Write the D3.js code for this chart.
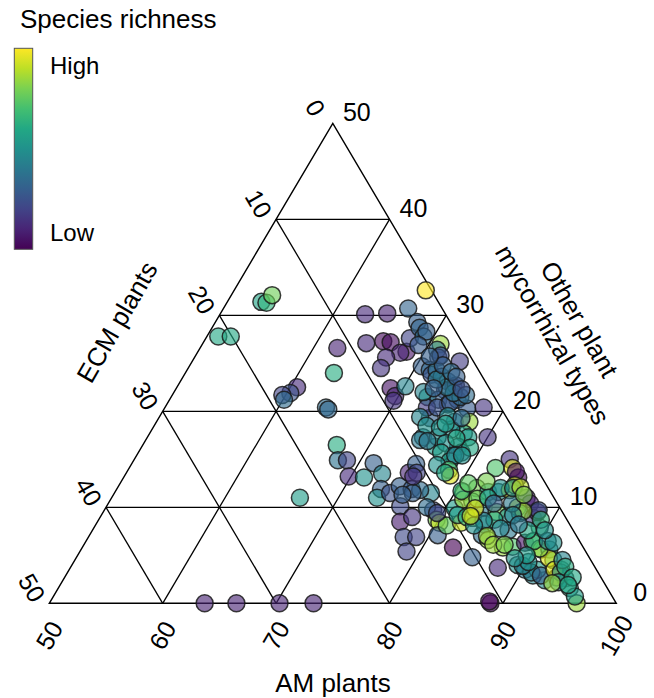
<!DOCTYPE html>
<html>
<head>
<meta charset="utf-8">
<script src="https://cdn.jsdelivr.net/npm/d3@7"></script>
<style>
  html, body { margin: 0; padding: 0; background: #fff; }
  svg { display: block; font-family: "Liberation Sans", Arial, Helvetica, sans-serif; }
</style>
</head>
<body>
<svg id="chart" width="654" height="698"></svg>
<script>
// ---- Data (percent of plant community) ----
const ecm = [
15.6,15.2,14.3,21.2,20.1,16.9,17.8,18.6,18.7,22.4,
11.3,12.9,15.4,15.3,16.4,17.1,16.3,17.0,15.7,14.1,
13.9,14.8,15.6,14.2,13.0,11.5,10.4,10.8,12.1,14.0,
14.8,13.5,15.3,14.2,15.8,36.3,33.5,29.7,26.7,11.1,
11.1,3.5,7.1,5.1,3.0,8.5,6.9,6.3,5.4,6.0,
7.5,8.5,8.7,8.7,7.3,9.1,4.4,0.5,2.9,3.0,
3.1,2.6,2.0,2.6,2.9,1.2,4.8,4.3,4.4,3.7,
3.6,3.3,3.1,4.0,5.9,5.1,4.5,3.4,3.0,1.5,
6.8,4.8,3.5,4.6,4.4,2.7,5.5,8.4,7.8,5.8,
5.8,4.8,6.5,5.6,4.2,3.0,2.8,3.4,2.4,3.7,
4.2,2.6,7.6,7.5,8.8,7.1,6.7,6.7,6.0,7.6,
7.3,6.5,5.9,2.9,2.5,2.3,2.5,5.1,4.0,6.4,
4.0,3.6,4.9,5.7,5.5,8.6,8.2,7.8,8.0,8.3,
10.6,11.3,11.7,11.5,11.4,12.2,11.5,10.3,11.4,12.2,
13.2,11.3,9.3,10.9,9.5,3.6,1.9,2.1,2.1,2.0,
7.7,6.3,5.5,4.6,3.5,2.8,2.4,2.4,7.4,8.1,
6.7,5.8,5.1,3.7,3.8,11.1,9.4,8.7,8.2,7.5,
6.4,5.7,6.3,8.3,8.0,7.1,6.2,4.9,4.2,2.8,
2.9,2.2,7.8,6.8,8.6,6.7,3.8,3.1,3.3,3.1,
3.2,3.9,5.1,5.9,6.3,3.3,3.3,5.2,5.9,6.3,
5.6,5.2,3.6,3.7,3.3,4.0,4.6,3.9,4.0,2.8,
2.4,2.5,2.6,2.5,3.3,2.0,2.3,3.4,4.0,4.5,
7.4,8.5,7.9,7.8,6.8,7.5,8.3,4.2,3.1,5.1,
6.8,2.5,4.0,4.5,5.4,6.6,5.8,5.6,2.4,2.5
];
const other = [
31.4,31.3,32.1,27.8,27.8,22.5,21.9,21.7,21.2,11.0,
26.6,24.0,20.4,20.2,16.5,14.9,14.9,13.2,13.1,14.6,
13.5,11.9,11.0,11.5,12.2,13.6,14.5,13.6,11.9,10.1,
8.5,9.0,6.9,6.9,5.4,0,0,0,0,0,
0.2,0,30.1,30.2,30.7,27.1,27.3,27.2,26.2,26.1,
25.6,24.5,22.4,21.6,22.6,21.1,27.6,32.6,29.3,28.7,
27.8,28.3,27.0,26.4,25.6,25.2,24.7,24.3,23.8,24.3,
23.6,23.1,22.5,22.2,21.5,21.2,20.7,21.2,20.3,20.4,
19.3,18.9,18.9,17.7,17.3,17.3,18.1,17.3,16.3,16.3,
15.7,16.2,20.4,20.4,20.9,21.5,22.7,21.9,21.7,22.5,
23.3,25.8,19.4,18.5,17.0,17.3,16.7,15.4,22.0,15.7,
14.8,15.4,15.4,24.8,24.1,23.6,22.3,19.5,19.3,18.3,
26.9,25.7,22.4,18.7,17.2,14.4,16.9,13.9,13.3,13.6,
11.5,9.7,10.0,8.7,8.4,7.1,5.8,4.8,11.8,11.5,
11.3,13.2,9.9,8.1,8.4,14.1,15.0,14.1,13.1,13.7,
11.6,12.0,11.6,11.6,11.8,12.3,11.0,10.4,10.6,10.8,
10.0,9.5,9.0,10.0,9.4,9.4,9.2,9.0,8.9,8.2,
8.7,7.6,7.8,7.1,6.6,5.8,5.9,6.3,6.4,7.9,
8.9,9.5,11.7,10.9,3.7,4.0,5.6,5.6,4.5,3.5,
2.6,2.7,2.4,2.9,3.5,1.6,0.7,3.5,3.2,3.9,
4.3,2.9,4.7,3.5,3.2,2.2,2.1,5.7,6.5,6.5,
6.3,4.5,3.8,2.7,1.9,9.7,8.7,9.6,10.4,9.2,
8.6,8.1,7.0,6.1,6.1,9.9,9.1,12.0,12.0,12.7,
12.5,7.6,7.6,8.2,5.0,4.7,11.0,10.4,12.1,11.3
];
// relative species richness (0 = low, 1 = high)
const richness = [
.58,.65,.78,.6,.6,.12,.25,.2,.35,.55,
.1,.62,.35,.33,.62,.38,.2,.12,.5,.3,
.45,.3,.5,.25,.3,.1,.3,.2,.28,.22,
.08,.15,.22,.2,.2,.1,.1,.1,.1,0,
.02,.85,.12,.1,.32,.12,.02,.03,.05,.1,
.12,.15,.05,.1,.45,.15,.2,1,.3,.32,
.35,.3,.85,.4,.25,.18,.3,.33,.25,.38,
.4,.38,.3,.25,.55,.3,.25,.28,.28,.15,
.3,.5,.85,.55,.55,.15,.5,.45,.55,.45,
.45,.6,.18,.25,.28,.35,.22,.4,.35,.4,
.4,.25,.45,.5,.4,.5,.5,.45,.45,.55,
.55,.45,.5,.3,.35,.3,.25,.48,.35,.5,
.28,.3,.3,.55,.6,.5,.4,.72,.95,.6,
.45,.2,.35,.8,.92,.3,0,.3,.35,.3,
.3,.15,.55,.75,.92,.72,.15,.95,.02,.05,
.85,.8,.5,.5,.95,.92,.05,.1,.75,.85,
.4,.8,.5,.95,.5,.22,.55,.62,.92,.55,
.6,.4,.45,.35,.85,.85,.72,.05,.75,.68,
.18,.03,.65,.78,.12,.5,.85,.5,.65,.6,
.45,.95,.48,.45,.4,.58,.55,.55,.42,.45,
.5,.3,.95,.95,.45,.5,.85,.82,.65,.45,
.5,.45,.62,.6,.6,.25,.65,.85,.4,.45,
.45,.5,.85,.85,.8,.95,.92,.5,.5,.8,
.75,.5,.6,.4,.55,.5,.6,.3,.9,.8
];
const gridValues = [10, 20, 30, 40];
const ecmTicks = [0, 10, 20, 30, 40, 50];
const amTicks = [50, 60, 70, 80, 90, 100];
const otherTicks = [0, 10, 20, 30, 40, 50];

// ---- Scales ----
const svg = d3.select("#chart");
const xScale = d3.scaleLinear().domain([50, 100]).range([49.3, 616.3]); // AM along the base
const yScale = d3.scaleLinear().domain([0, 50]).range([603.3, 123.3]);  // Other (height)
const color = d3.scaleSequential(d3.interpolateViridis).domain([0, 1]);

function proj(am, e, o) {
  const x = xScale(am) + (xScale(50 + o) - xScale(50)) / 2;
  return [x, yScale(o)];
}
const P = (e, o) => proj(100 - e - o, e, o);

// ---- Grid ----
const g = svg.append("g");
const lines = [];
gridValues.forEach(k => {
  lines.push([P(k, 0), P(k, 50 - k)]);      // ECM = k
  lines.push([P(50 - k, k), P(0, k)]);      // Other = k
  const m = 50 + k;                          // AM = m
  lines.push([P(100 - m, 0), P(0, 100 - m)]);
});
g.selectAll("line.grid").data(lines).join("line")
  .attr("x1", d => d[0][0]).attr("y1", d => d[0][1])
  .attr("x2", d => d[1][0]).attr("y2", d => d[1][1])
  .attr("stroke", "#000").attr("stroke-width", 1.3);
const tri = [P(50, 0), P(0, 0), P(0, 50)];
g.append("path")
  .attr("d", d3.line()(tri) + "Z")
  .attr("fill", "none").attr("stroke", "#000").attr("stroke-width", 1.4);

// ---- Points ----
const pts = ecm.map((e, i) => ({ e, o: other[i], r: richness[i] }));
svg.append("g").selectAll("circle").data(pts).join("circle")
  .attr("cx", d => P(d.e, d.o)[0])
  .attr("cy", d => P(d.e, d.o)[1])
  .attr("r", 8.5)
  .attr("fill", d => color(d.r))
  .attr("fill-opacity", 0.62)
  .attr("stroke", "#1a1a1a")
  .attr("stroke-opacity", 0.85)
  .attr("stroke-width", 1.5);

// ---- Tick labels ----
const fs = 25;
const tl = svg.append("g").attr("font-size", fs).attr("fill", "#000");
ecmTicks.forEach(v => {
  const [x, y] = P(v, 50 - v);
  tl.append("text").attr("transform", `translate(${x - 17.5},${y - 15.5}) rotate(60)`)
    .attr("text-anchor", "middle").attr("dy", "0.35em").text(v);
});
amTicks.forEach(v => {
  const [x, y] = P(100 - v, 0);
  tl.append("text").attr("transform", `translate(${x},${y + 32}) rotate(-60)`)
    .attr("text-anchor", "middle").attr("dy", "0.35em").text(v);
});
otherTicks.forEach(v => {
  const [x, y] = P(0, v);
  tl.append("text").attr("x", x + 24).attr("y", y - 11)
    .attr("text-anchor", "middle").attr("dy", "0.35em").text(v);
});

// ---- Axis titles ----
const at = svg.append("g").attr("font-size", 26).attr("fill", "#000");
at.append("text").attr("x", 333).attr("y", 692).attr("text-anchor", "middle").text("AM plants");
at.append("text").attr("transform", "translate(117,322) rotate(-60)")
  .attr("text-anchor", "middle").attr("dy", "0.35em").text("ECM plants");
const ot = at.append("g").attr("transform", "translate(566,327) rotate(60)");
ot.append("text").attr("text-anchor", "middle").attr("y", -15.5).attr("dy", "0.35em").text("Other plant");
ot.append("text").attr("text-anchor", "middle").attr("y", 15.5).attr("dy", "0.35em").text("mycorrhizal types");

// ---- Legend ----
const defs = svg.append("defs");
const grad = defs.append("linearGradient").attr("id", "vir")
  .attr("x1", 0).attr("y1", 1).attr("x2", 0).attr("y2", 0);
d3.range(0, 1.0001, 0.1).forEach(t => {
  grad.append("stop").attr("offset", t).attr("stop-color", color(t));
});
const lg = svg.append("g");
lg.append("text").attr("x", 20).attr("y", 28).attr("font-size", 26).text("Species richness");
lg.append("rect").attr("x", 14.3).attr("y", 48.3).attr("width", 18.4).attr("height", 201)
  .attr("fill", "url(#vir)").attr("stroke", "#555").attr("stroke-width", 1);
lg.append("text").attr("x", 50).attr("y", 74).attr("font-size", 24).text("High");
lg.append("text").attr("x", 50).attr("y", 241).attr("font-size", 24).text("Low");
</script>
</body>
</html>
